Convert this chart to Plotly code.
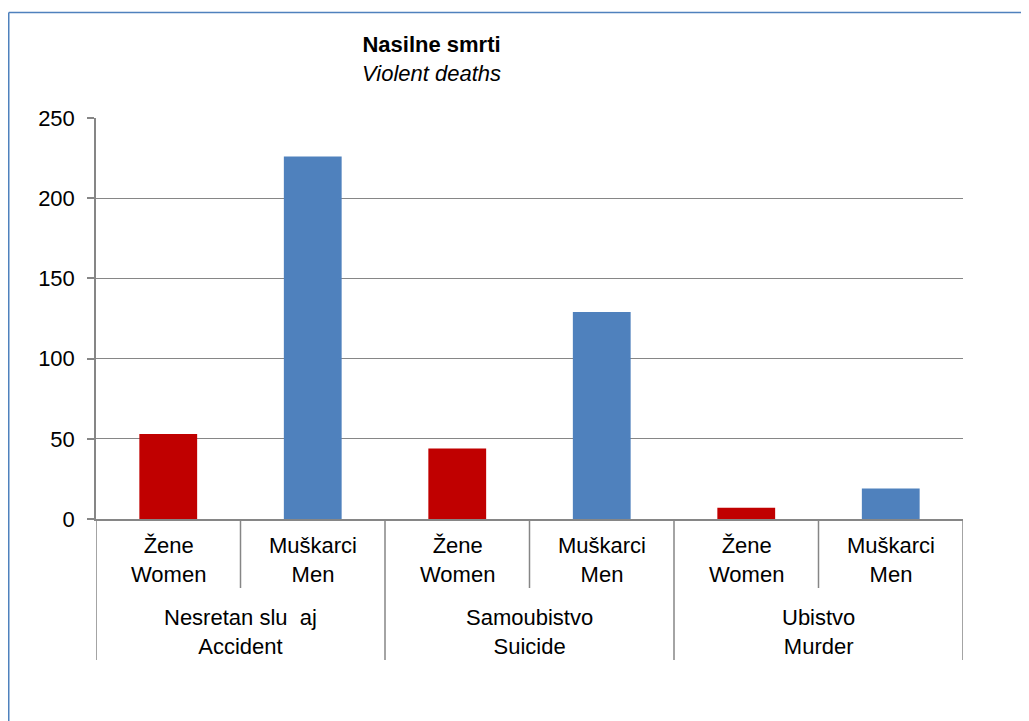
import plotly.graph_objects as go

# data
groups = ["Nesretan slu\u00a0\u00a0aj<br>Accident", "Samoubistvo<br>Suicide", "Ubistvo<br>Murder"]
sexes = ["Žene<br>Women", "Muškarci<br>Men"]
women = [53, 44, 7]
men = [226, 129, 19]
y_ticks = [0, 50, 100, 150, 200, 250]

W, H = 1029, 721
OFF = 8  # page body margin around the plot div
# plot area in page pixels
X0, X1, Y0, Y1 = 96, 963, 118, 519
L, R = X0 - OFF, W - (X1 - OFF)
T, B = Y0 - OFF, H - (Y1 - OFF)
plot_w = X1 - X0
plot_h = Y1 - Y0


def py(p):
    # page pixel row -> paper y
    return (Y1 - p) / plot_h


def px(p):
    # page pixel column -> paper x
    return (p - X0) / plot_w


font = "Arial, Liberation Sans, sans-serif"
grey = "#868686"

x_women = [2 * i for i in range(len(groups))]
x_men = [2 * i + 1 for i in range(len(groups))]

fig = go.Figure()
fig.add_trace(go.Bar(x=x_women, y=women, width=0.4, marker_color="#C00000",
                     marker_line_width=0, name="Women"))
fig.add_trace(go.Bar(x=x_men, y=men, width=0.4, marker_color="#4F81BD",
                     marker_line_width=0, name="Men"))

annotations = []
shapes = []

# category labels
for i in range(len(groups)):
    for j, s in enumerate(sexes):
        annotations.append(dict(x=2 * i + j, y=py(560), xref="x", yref="paper",
                                text=s, showarrow=False, yanchor="middle",
                                font=dict(size=22, color="black", family=font)))
    annotations.append(dict(x=2 * i + 0.5, y=py(632), xref="x", yref="paper",
                            text=groups[i], showarrow=False, yanchor="middle",
                            font=dict(size=22, color="black", family=font)))

# divider lines below the axis
n = 2 * len(groups)
for k in range(n + 1):
    xb = k - 0.5
    bottom = py(660) if k % 2 == 0 else py(588)
    shapes.append(dict(type="line", xref="x", yref="paper", x0=xb, x1=xb,
                       y0=0, y1=bottom, line=dict(color=grey, width=1.5)))

# outer frame (top and left edges)
shapes.append(dict(type="line", xref="paper", yref="paper",
                   x0=px(8.75), x1=px(W + OFF), y0=py(12.5), y1=py(12.5),
                   line=dict(color="#4F81BD", width=1.5)))
shapes.append(dict(type="line", xref="paper", yref="paper",
                   x0=px(8.75), x1=px(8.75), y0=py(12.5), y1=py(H + OFF),
                   line=dict(color="#4F81BD", width=1.5)))

# title
annotations.append(dict(x=px(431), y=py(59), xref="paper", yref="paper",
                        text="<b>Nasilne smrti</b><br><i>Violent deaths</i>",
                        showarrow=False, yanchor="middle",
                        font=dict(size=22, color="black", family=font)))

fig.update_layout(
    width=W, height=H, autosize=False,
    margin=dict(l=L, r=R, t=T, b=B),
    paper_bgcolor="white", plot_bgcolor="white",
    showlegend=False,
    font=dict(family=font, size=22, color="black"),
    xaxis=dict(range=[-0.5, n - 0.5], showticklabels=False, showgrid=False,
               zeroline=False, showline=True, linecolor=grey, linewidth=1.5,
               ticks=""),
    yaxis=dict(range=[0, 250], tickvals=y_ticks, showgrid=True, gridcolor=grey,
               gridwidth=1, zeroline=False, showline=True, linecolor=grey,
               linewidth=1.5, ticks="outside", ticklen=7, tickcolor=grey,
               tickwidth=1.5, ticklabelstandoff=8,
               tickfont=dict(size=22, color="black", family=font)),
    shapes=shapes,
    annotations=annotations,
)

fig.write_html("out.html")
